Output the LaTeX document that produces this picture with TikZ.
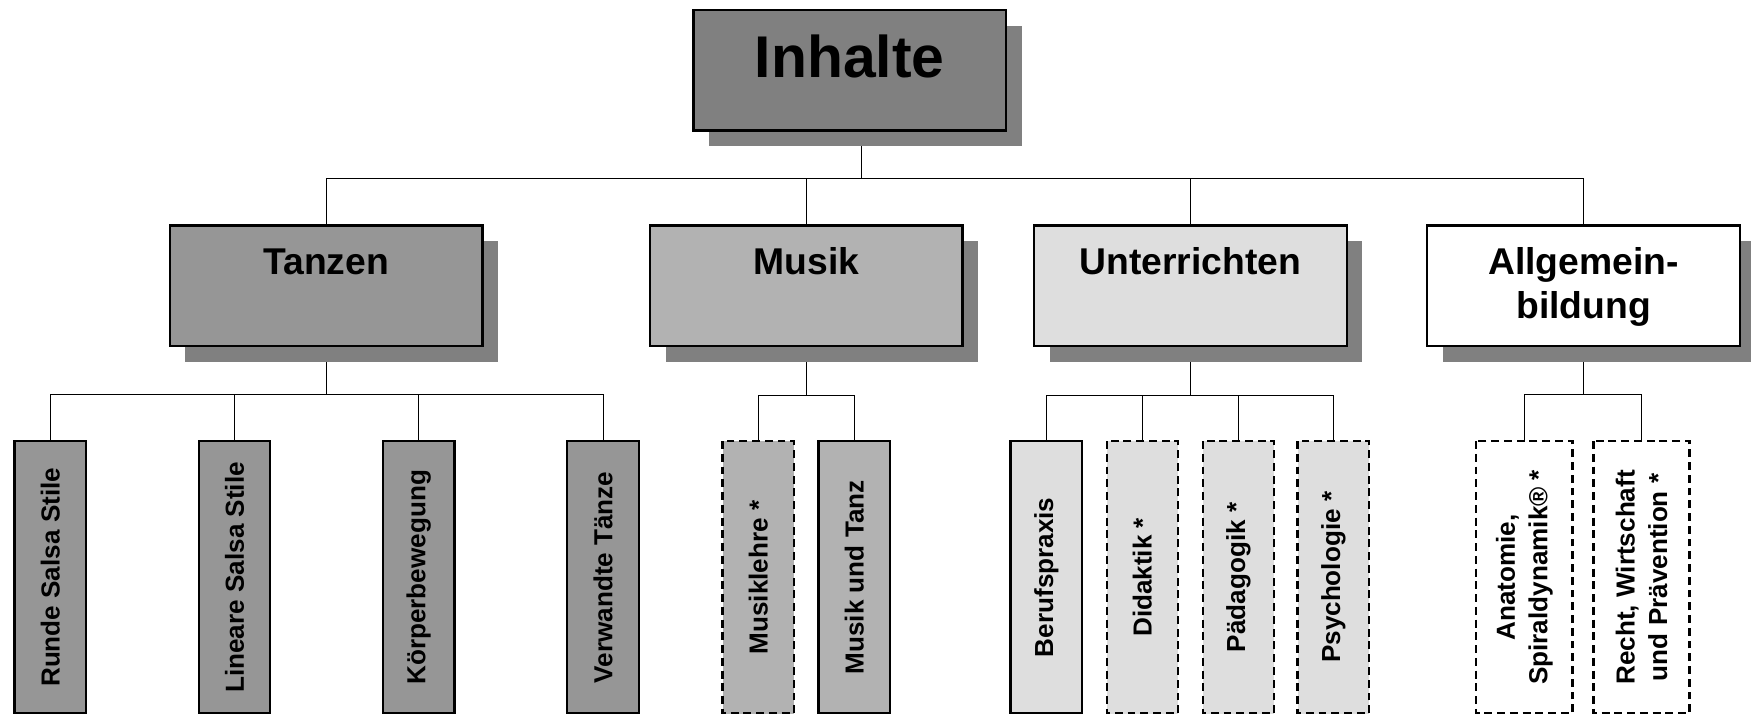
\documentclass[tikz,border=0pt]{standalone}
\usepackage{fontspec}
\setmainfont{Liberation Sans}
\usetikzlibrary{shadows,backgrounds}
\definecolor{dunkelgrau}{gray}{0.5}
\definecolor{tanzgrau}{gray}{0.59}
\definecolor{musikgrau}{gray}{0.7}
\definecolor{hellgrau}{gray}{0.87}
\begin{document}
\begin{tikzpicture}[x=0.02cm, y=-0.02cm, line width=1.2pt,
  haupt/.style={draw, inner sep=0pt, text width=5.6cm, align=center, text height=0.87cm, text depth=1.29cm,
    drop shadow={shadow xshift=0.28cm, shadow yshift=-0.28cm, fill=dunkelgrau, opacity=1},
    font=\bfseries\fontsize{19}{22.8}\selectfont},
  fach/.style={draw, rotate=90, inner sep=0pt, minimum width=4.88cm, minimum height=1.28cm, align=center,
    font=\bfseries\fontsize{13.3}{16.5}\selectfont},
  wahlfach/.style={fach, dash pattern=on 4pt off 2.5pt}]
\useasboundingbox (0,0) rectangle (1568,639);
\node[haupt, fill=dunkelgrau, text height=1.2cm, text depth=0.96cm, font=\bfseries\fontsize{30}{36}\selectfont] (inhalte) at (761,63) {Inhalte};
\node[haupt, fill=tanzgrau] (tanzen) at (292,256) {Tanzen};
\node[haupt, fill=musikgrau] (musik) at (722,256) {Musik};
\node[haupt, fill=hellgrau] (unterrichten) at (1066,256) {Unterrichten};
\node[haupt, fill=white] (allgemein) at (1418,256) {Allgemein-\\bildung};
\node[fach, fill=tanzgrau] (runde) at (45,517) {Runde Salsa Stile};
\node[fach, fill=tanzgrau] (lineare) at (210,517) {Lineare Salsa Stile};
\node[fach, fill=tanzgrau] (koerper) at (375,517) {Körperbewegung};
\node[fach, fill=tanzgrau] (verwandte) at (540,517) {Verwandte Tänze};
\node[wahlfach, fill=musikgrau] (musiklehre) at (679,517) {Musiklehre *};
\node[fach, fill=musikgrau] (musiktanz) at (765,517) {Musik und Tanz};
\node[fach, fill=hellgrau] (beruf) at (937,517) {Berufspraxis};
\node[wahlfach, fill=hellgrau] (didaktik) at (1023,517) {Didaktik *};
\node[wahlfach, fill=hellgrau] (paedagogik) at (1109,517) {Pädagogik *};
\node[wahlfach, fill=hellgrau] (psychologie) at (1194,517) {Psychologie *};
\node[wahlfach, fill=white, minimum height=1.72cm] (anatomie) at (1365,517) {Anatomie,\\Spiraldynamik® *};
\node[wahlfach, fill=white, minimum height=1.72cm] (recht) at (1470,517) {Recht, Wirtschaft\\und Prävention *};
\begin{scope}[on background layer]
\foreach \ziel in {tanzen,musik,unterrichten,allgemein}
  \draw ([xshift=0.2cm]inhalte.south) -- ++(0,42) -| (\ziel.north);
\foreach \ziel in {runde,lineare,koerper,verwandte}
  \draw (tanzen.south) -- ++(0,42) -| (\ziel.east);
\foreach \ziel in {musiklehre,musiktanz}
  \draw (musik.south) -- ++(0,43) -| (\ziel.east);
\foreach \ziel in {beruf,didaktik,paedagogik,psychologie}
  \draw (unterrichten.south) -- ++(0,43) -| (\ziel.east);
\foreach \ziel in {anatomie,recht}
  \draw (allgemein.south) -- ++(0,42) -| (\ziel.east);
\end{scope}
\end{tikzpicture}
\end{document}
